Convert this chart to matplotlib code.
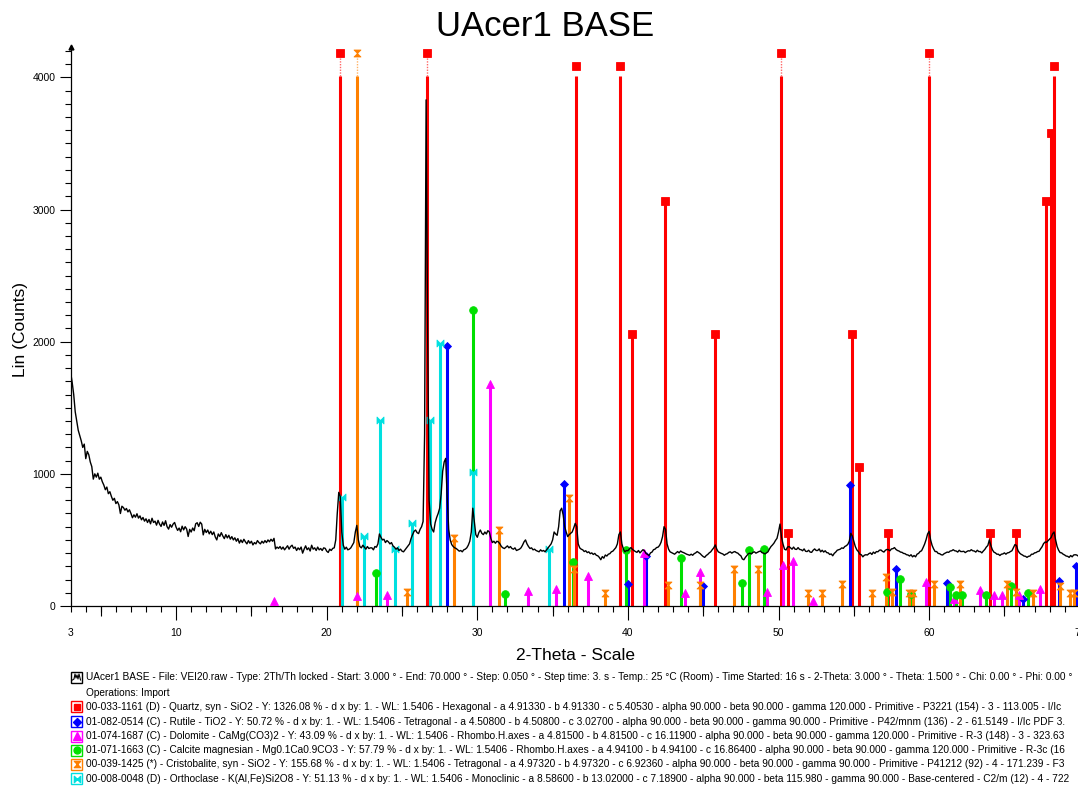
import numpy as np
import matplotlib
matplotlib.use('Agg')
import matplotlib.pyplot as plt
from matplotlib.path import Path
from matplotlib.patches import Rectangle
from matplotlib.lines import Line2D
from matplotlib.ticker import MultipleLocator, NullLocator

plt.rcParams['font.family'] = ['Liberation Sans', 'DejaVu Sans']

# ---------------- data ----------------
scan_start = 3.0
scan_step = 0.1
scan_counts = [
    1765, 1690, 1600, 1470, 1400, 1330, 1290, 1250, 1200, 1225,   # 3
    1115, 1170, 1145, 1090, 1055, 960, 1000, 975, 1005, 960,       # 4
    975, 940, 915, 880, 900, 850, 865, 830, 800, 815,              # 5
    775, 790, 765, 700, 755, 745, 725, 738, 712, 728,              # 6
    700, 668, 690, 672, 698, 665, 682, 652, 670, 642,              # 7
    660, 632, 655, 622, 664, 632, 642, 612, 648, 620,              # 8
    602, 636, 610, 645, 600, 582, 616, 596, 620, 632,              # 9
    596, 572, 590, 562, 604, 576, 600, 582, 526, 580,              # 10
    560, 590, 570, 622, 630, 602, 634, 620, 538, 580,              # 11
    556, 575, 546, 566, 540, 560, 522, 500, 545, 526,              # 12
    555, 530, 510, 540, 515, 535, 506, 525, 500, 516,              # 13
    490, 510, 476, 500, 480, 505, 486, 470, 495, 475,              # 14
    490, 462, 480, 470, 495, 480, 470, 490, 476, 495,              # 15
    480, 500, 486, 505, 490, 512, 432, 446, 436, 450,              # 16
    430, 446, 425, 440, 456, 430, 450, 460, 436, 446,              # 17
    420, 440, 426, 446, 400, 430, 455, 426, 440, 416,              # 18
    460, 430, 440, 420, 446, 425, 435, 420, 440, 436,              # 19
    415, 405, 430, 420, 436, 440, 500, 700, 860, 830,              # 20
    560, 460, 430, 445, 425, 430, 440, 460, 480, 560,              # 21
    610, 500, 450, 440, 460, 445, 430, 450, 435, 440,              # 22
    440, 425, 450, 445, 470, 545, 520, 500, 505, 480,              # 23
    495, 485, 470, 480, 455, 445, 430, 440, 420, 430,              # 24
    415, 410, 425, 440, 455, 470, 510, 540, 565, 575,              # 25
    555, 548, 580, 600, 640, 1300, 3830, 2100, 800, 620,           # 26
    580, 560, 630, 670, 700, 740, 850, 1020, 1090, 1117,           # 27
    820, 580, 500, 465, 450, 440, 435, 425, 415, 420,              # 28
    410, 425, 430, 440, 460, 490, 560, 740, 640, 540,              # 29
    520, 555, 575, 550, 540, 560, 545, 570, 560, 510,              # 30
    480, 490, 475, 490, 485, 470, 450, 440, 435, 445,              # 31
    455, 440, 450, 435, 430, 440, 420, 425, 430, 440,              # 32
    460, 485, 500, 470, 450, 435, 440, 425, 430, 420,              # 33
    415, 410, 425, 415, 420, 410, 425, 440, 455, 470,              # 34
    500, 560, 545, 535, 600, 720, 740, 690, 600, 560,              # 35
    525, 540, 550, 560, 590, 625, 600, 470, 440, 430,              # 36
    425, 412, 418, 404, 410, 396, 402, 390, 398, 384,              # 37
    380, 368, 350, 374, 362, 386, 378, 392, 396, 410,              # 38
    415, 428, 442, 470, 540, 560, 470, 430, 410, 420,              # 39
    418, 432, 442, 428, 420, 412, 406, 420, 402, 414,              # 40
    426, 418, 398, 390, 382, 402, 408, 426, 430, 442,              # 41
    445, 458, 482, 525, 600, 580, 470, 430, 410, 404,              # 42
    398, 392, 402, 412, 402, 416, 408, 404, 398, 392,              # 43
    388, 384, 392, 384, 396, 402, 412, 404, 396, 384,              # 44
    374, 368, 382, 390, 402, 410, 426, 440, 462, 430,              # 45
    410, 404, 398, 394, 384, 392, 396, 406, 410, 400,              # 46
    408, 412, 404, 400, 388, 380, 356, 350, 368, 382,              # 47
    396, 400, 394, 406, 410, 400, 406, 412, 416, 404,              # 48
    400, 394, 402, 410, 432, 450, 462, 476, 496, 512,              # 49
    560, 620, 520, 468, 430, 424, 446, 450, 440, 430,              # 50
    446, 430, 428, 442, 428, 426, 418, 432, 414, 412,              # 51
    422, 408, 406, 422, 432, 420, 420, 432, 410, 422,              # 52
    408, 418, 404, 402, 390, 394, 380, 398, 408, 422,              # 53
    426, 430, 440, 436, 450, 456, 466, 490, 550, 530,              # 54
    490, 450, 425, 412, 392, 388, 372, 384, 388, 386,              # 55
    396, 402, 390, 408, 398, 412, 410, 422, 424, 414,              # 56
    408, 422, 428, 426, 418, 432, 434, 442, 428, 420,              # 57
    416, 408, 406, 398, 396, 388, 386, 378, 388, 372,              # 58
    382, 372, 392, 398, 412, 418, 442, 468, 502, 545,              # 59
    565, 500, 458, 432, 412, 412, 398, 396, 388, 386,              # 60
    396, 402, 408, 406, 416, 418, 426, 418, 416, 408,              # 61
    422, 412, 412, 414, 404, 412, 418, 416, 426, 418,              # 62
    416, 408, 422, 412, 412, 402, 416, 428, 446, 458,              # 63
    500, 458, 426, 408, 402, 392, 392, 382, 392, 394,              # 64
    402, 392, 402, 404, 412, 418, 442, 465, 458, 420,              # 65
    402, 392, 386, 378, 376, 368, 376, 378, 392, 392,              # 66
    402, 404, 412, 414, 432, 448, 472, 484, 482, 494,              # 67
    506, 518, 546, 560, 500, 450, 422, 404, 402, 392,              # 68
    386, 378, 376, 368, 382, 372, 386, 388, 386, 378,              # 69
    390,                                                           # 70
]

# stick patterns (2-theta, height in counts); heights above 4100 are off-scale
quartz_pos = [20.86, 26.64, 36.54, 39.46, 40.29, 42.45, 45.79, 50.14, 50.62,
              54.87, 55.33, 57.24, 59.96, 64.03, 65.79, 67.74, 68.12, 68.30]
quartz_h = [4185, 4185, 4085, 4085, 2058, 3064, 2058, 4185, 552,
            2058, 1051, 552, 4185, 552, 552, 3064, 3578, 4085]

rutile_pos = [27.96, 35.73, 40.00, 41.17, 45.00, 54.72, 57.82, 61.20, 66.25, 68.60, 69.73]
rutile_h = [1969, 925, 164, 375, 151, 915, 280, 174, 55, 190, 305]

dolomite_pos = [16.50, 22.03, 24.02, 30.84, 33.36, 35.20, 37.35, 41.07, 43.79, 44.82,
                49.22, 50.29, 50.94, 52.27, 59.77, 61.64, 63.39, 64.29, 64.86, 65.97, 67.37]
dolomite_h = [40, 76, 83, 1679, 111, 126, 225, 400, 101, 257,
              104, 310, 343, 40, 184, 53, 124, 83, 83, 83, 132]

calcite_pos = [23.29, 29.73, 31.82, 36.35, 39.85, 43.54, 47.60, 48.06, 49.05, 57.22,
               58.04, 58.81, 61.38, 61.76, 62.18, 63.79, 65.43, 66.54]
calcite_h = [250, 2241, 88, 335, 421, 361, 172, 420, 431, 104,
             204, 90, 146, 85, 85, 80, 151, 101]

cristobalite_pos = [21.99, 25.31, 28.45, 31.47, 36.09, 36.44, 38.46, 42.66, 44.82, 47.04,
                    48.63, 51.97, 52.90, 54.19, 56.23, 57.12, 57.55, 58.66, 58.92, 60.34,
                    62.07, 65.15, 65.75, 66.89, 68.66, 69.37, 69.61]
cristobalite_h = [4185, 106, 512, 573, 815, 278, 98, 159, 159, 278,
                  278, 98, 98, 166, 101, 220, 106, 101, 101, 166,
                  166, 164, 106, 101, 151, 101, 101]

orthoclase_pos = [20.99, 22.49, 23.52, 24.55, 25.66, 26.84, 27.50, 29.73, 34.76]
orthoclase_h = [824, 530, 1405, 431, 628, 1405, 1989, 1013, 431]

x_major_ticks = [3, 10, 20, 30, 40, 50, 60, 70]
y_major_ticks = [0, 1000, 2000, 3000, 4000]

title_text = 'UAcer1 BASE'
xlabel_text = '2-Theta - Scale'
ylabel_text = 'Lin (Counts)'

scan_legend = ['UAcer1 BASE - File: VEI20.raw - Type: 2Th/Th locked - Start: 3.000 \u00b0 - End: 70.000 \u00b0 - '
               'Step: 0.050 \u00b0 - Step time: 3. s - Temp.: 25 \u00b0C (Room) - Time Started: 16 s - '
               '2-Theta: 3.000 \u00b0 - Theta: 1.500 \u00b0 - Chi: 0.00 \u00b0 - Phi: 0.00 \u00b0',
               'Operations: Import']
phase_legend = [
    '00-033-1161 (D) - Quartz, syn - SiO2 - Y: 1326.08 % - d x by: 1. - WL: 1.5406 - Hexagonal - a 4.91330 - b 4.91330 - c 5.40530 - alpha 90.000 - beta 90.000 - gamma 120.000 - Primitive - P3221 (154) - 3 - 113.005 - I/Ic',
    '01-082-0514 (C) - Rutile - TiO2 - Y: 50.72 % - d x by: 1. - WL: 1.5406 - Tetragonal - a 4.50800 - b 4.50800 - c 3.02700 - alpha 90.000 - beta 90.000 - gamma 90.000 - Primitive - P42/mnm (136) - 2 - 61.5149 - I/Ic PDF 3.',
    '01-074-1687 (C) - Dolomite - CaMg(CO3)2 - Y: 43.09 % - d x by: 1. - WL: 1.5406 - Rhombo.H.axes - a 4.81500 - b 4.81500 - c 16.11900 - alpha 90.000 - beta 90.000 - gamma 120.000 - Primitive - R-3 (148) - 3 - 323.63',
    '01-071-1663 (C) - Calcite magnesian - Mg0.1Ca0.9CO3 - Y: 57.79 % - d x by: 1. - WL: 1.5406 - Rhombo.H.axes - a 4.94100 - b 4.94100 - c 16.86400 - alpha 90.000 - beta 90.000 - gamma 120.000 - Primitive - R-3c (16',
    '00-039-1425 (*) - Cristobalite, syn - SiO2 - Y: 155.68 % - d x by: 1. - WL: 1.5406 - Tetragonal - a 4.97320 - b 4.97320 - c 6.92360 - alpha 90.000 - beta 90.000 - gamma 90.000 - Primitive - P41212 (92) - 4 - 171.239 - F3',
    '00-008-0048 (D) - Orthoclase - K(Al,Fe)Si2O8 - Y: 51.13 % - d x by: 1. - WL: 1.5406 - Monoclinic - a 8.58600 - b 13.02000 - c 7.18900 - alpha 90.000 - beta 115.980 - gamma 90.000 - Base-centered - C2/m (12) - 4 - 722',
]

# ---------------- styles ----------------
hourglass = Path([(-1, 1), (1, 1), (-1, -1), (1, -1), (-1, 1)],
                 [Path.MOVETO, Path.LINETO, Path.LINETO, Path.LINETO, Path.CLOSEPOLY])
bowtie = Path([(-1, 1), (1, -1), (1, 1), (-1, -1), (-1, 1)],
              [Path.MOVETO, Path.LINETO, Path.LINETO, Path.LINETO, Path.CLOSEPOLY])

phases = [
    (quartz_pos, quartz_h, '#ff0000', 's', 5.5),
    (rutile_pos, rutile_h, '#0000ff', 'D', 4.5),
    (dolomite_pos, dolomite_h, '#ff00ff', '^', 6),
    (calcite_pos, calcite_h, '#00e000', 'o', 5.5),
    (cristobalite_pos, cristobalite_h, '#ff8000', hourglass, 5),
    (orthoclase_pos, orthoclase_h, '#00e0e0', bowtie, 5),
]

W, H = 1078, 787
fig = plt.figure(figsize=(W / 100, H / 100), dpi=100)
x_left, x_right, y_top, y_bot = 70.7, 1079.7, 47, 606
ax = fig.add_axes([x_left / W, 1 - y_bot / H, (x_right - x_left) / W, (y_bot - y_top) / H])
ax.set_xlim(3, 70)
ax.set_ylim(0, 4230)

solid_top = 4010
for pos, h, col, mk, ms in phases:
    pos = np.asarray(pos)
    h = np.asarray(h, dtype=float)
    ax.vlines(pos, 0, np.minimum(h, solid_top), colors=col, lw=2.2, zorder=2)
    over = h > 4100
    if over.any():
        ax.vlines(pos[over], solid_top, h[over], colors=col, lw=1.0,
                  linestyles=(0, (1, 1)), alpha=0.6, zorder=2)
    ax.plot(pos, h, linestyle='none', marker=mk, ms=ms, color=col,
            mec=col, mew=0.6, zorder=3, clip_on=False)

scan_x = scan_start + scan_step * np.arange(len(scan_counts))
ax.plot(scan_x, scan_counts, color='black', lw=1.0, zorder=5)

# axes styling
for s in ['top', 'right']:
    ax.spines[s].set_visible(False)
for s in ['left', 'bottom']:
    ax.spines[s].set_linewidth(0.9)
ax.set_xticks(x_major_ticks)
ax.set_xticklabels([str(t) for t in x_major_ticks])
ax.xaxis.set_minor_locator(MultipleLocator(1))
ax.set_yticks(y_major_ticks)
ax.yaxis.set_minor_locator(MultipleLocator(100))
ax.tick_params(axis='both', which='both', direction='out', width=0.8, colors='black', labelsize=7.5)
ax.tick_params(axis='x', which='major', length=10, pad=6)
ax.tick_params(axis='x', which='minor', length=4)
ax.tick_params(axis='y', which='major', length=8, pad=3)
ax.tick_params(axis='y', which='minor', length=4)
ax.xaxis.get_major_ticks()[0].tick1line.set_markersize(4)

sec = ax.secondary_xaxis('bottom')
sec.set_xticks([5, 15, 25, 35, 45, 55, 65])
sec.xaxis.set_minor_locator(NullLocator())
sec.tick_params(axis='x', length=7, width=0.8, direction='out', labelbottom=False)
sec.spines['bottom'].set_visible(False)

ax.plot([0], [1], marker='^', ms=3.5, color='black', transform=ax.transAxes, clip_on=False)

# texts
fig.text(545 / W, 1 - 27 / H, title_text, fontsize=25, ha='center', va='center')
fig.text(575 / W, 1 - 656 / H, xlabel_text, fontsize=12.5, ha='center', va='center')
fig.text(21 / W, 1 - 329 / H, ylabel_text, fontsize=12.5, ha='center', va='center', rotation=90)

row_y = [677, 692.7, 706.7, 721.7, 736, 750, 764.3, 778.7]
texts = scan_legend + phase_legend
for y, t in zip(row_y, texts):
    fig.text(86 / W, 1 - y / H, t, fontsize=7.25, ha='left', va='center')


def fx(px):
    return px / W


def fy(py):
    return 1 - py / H


box = 11
# scan icon
y0 = row_y[0]
fig.add_artist(Rectangle((fx(71), fy(y0 + box / 2)), box / W, box / H, fill=False,
                         edgecolor='black', lw=1.0))
zig_x = [72.5, 74, 75, 76, 77, 78, 79, 80.5]
zig_y = [3, 2, -3, 1, -2, 2, -3, 3]
fig.add_artist(Line2D([fx(v) for v in zig_x], [fy(y0 + v) for v in zig_y], color='black', lw=0.8))

for (pos, h, col, mk, ms), y in zip(phases, row_y[2:]):
    fig.add_artist(Rectangle((fx(71), fy(y + box / 2)), box / W, box / H, fill=False,
                             edgecolor=col, lw=1.0))
    fig.add_artist(Line2D([fx(76.5)], [fy(y)], marker=mk, ms=ms - 0.5, color=col, mec=col,
                          linestyle='none'))

fig.savefig('out.png', dpi=100)
